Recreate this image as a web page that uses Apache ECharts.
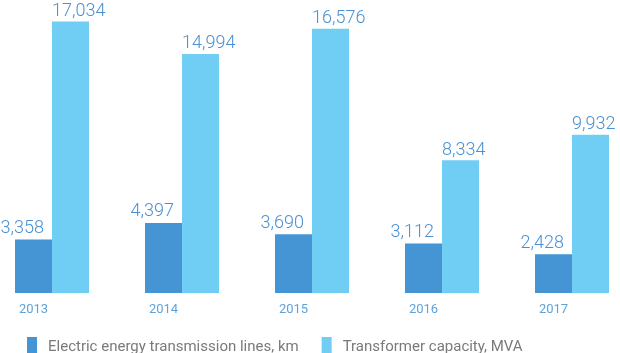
<!DOCTYPE html>
<html>
<head>
<meta charset="utf-8">
<script src="https://cdn.jsdelivr.net/npm/echarts@6/dist/echarts.min.js"></script>
<style>
  html, body { margin: 0; padding: 0; background: #fff; }
  #chart { width: 620px; height: 353px; }
</style>
</head>
<body>
<div id="chart"></div>
<script>
// data
var years = ["2013", "2014", "2015", "2016", "2017"];
var linesKm = [3358, 4397, 3690, 3112, 2428];
var transformerMVA = [17034, 14994, 16576, 8334, 9932];

var colors = ["#4594d3", "#70cdf3"];
var fmt = function (p) {
  return p.value.toLocaleString("en-US");
};

var myChart = echarts.init(document.getElementById("chart"));
myChart.setOption({
  animation: false,
  grid: { left: 52, right: 48, top: 14, bottom: 60 },
  legend: {
    left: 22,
    top: 332,
    itemWidth: 10,
    itemHeight: 21,
    itemGap: 23,
    icon: "rect",
    textStyle: {
      color: "#7a7a7a",
      fontSize: 15,
      fontFamily: "Roboto",
      padding: [0, 0, 0, 6],
    },
    data: ["Electric energy transmission lines, km", "Transformer capacity, MVA"],
  },
  xAxis: {
    type: "category",
    data: years,
    boundaryGap: false,
    axisLine: { show: false },
    axisTick: { show: false },
    axisLabel: {
      color: "#5fa3da",
      fontSize: 13,
      fontFamily: "Roboto",
      margin: 10,
      padding: [0, 37, 0, 0],
    },
  },
  yAxis: {
    type: "value",
    min: 0,
    max: 17500,
    show: false,
  },
  series: [
    {
      name: "Electric energy transmission lines, km",
      type: "bar",
      data: linesKm,
      barWidth: 37,
      barGap: "0%",
      itemStyle: { color: colors[0] },
      label: {
        show: true,
        position: ["100%", 0],
        offset: [-8, -2],
        align: "right",
        verticalAlign: "bottom",
        color: "#4a90d2",
        fontSize: 18,
        fontWeight: 300,
        fontFamily: "Roboto",
        formatter: fmt,
      },
    },
    {
      name: "Transformer capacity, MVA",
      type: "bar",
      data: transformerMVA,
      barWidth: 37,
      itemStyle: { color: colors[1] },
      label: {
        show: true,
        position: [0, 0],
        offset: [0, -1],
        align: "left",
        verticalAlign: "bottom",
        color: "#4a90d2",
        fontSize: 18,
        fontWeight: 300,
        fontFamily: "Roboto",
        formatter: fmt,
      },
    },
  ],
});
</script>
</body>
</html>
